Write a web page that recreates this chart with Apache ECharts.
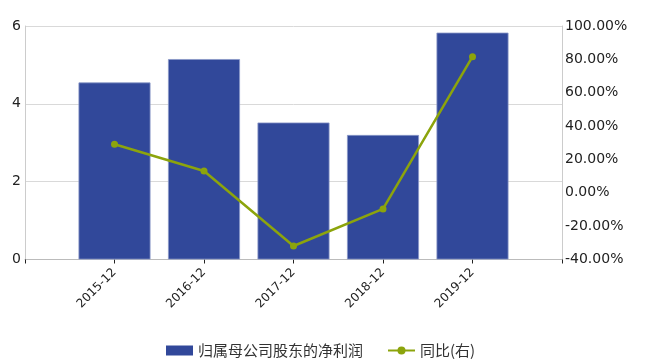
<!DOCTYPE html>
<html><head><meta charset="utf-8">
<script src="https://cdn.jsdelivr.net/npm/echarts@6/dist/echarts.min.js"></script>
<style>html,body{margin:0;padding:0;background:#fff}#c{width:645px;height:362px}</style>
</head><body><div id="c"></div>
<script>
var categories = ['', '2015-12', '2016-12', '2017-12', '2018-12', '2019-12', ''];
var profit = [null, 4.55, 5.15, 3.52, 3.20, 5.83, null];
var yoy = [null, 29.1, 13.1, -31.9, -9.7, 81.6, null];
var leftTicks = [0, 2, 4, 6];
var rightTicks = [-40, -20, 0, 20, 40, 60, 80, 100];

var chart = echarts.init(document.getElementById('c'));
var font = 'Verdana, "DejaVu Sans", sans-serif';
chart.setOption({
  animation: false,
  grid: {left: 25, right: 83, top: 26, bottom: 102.5, containLabel: false},
  legend: {
    left: 161, top: 338, itemWidth: 27, itemHeight: 10, itemGap: 24,
    textStyle: {fontFamily: '"Noto Sans CJK SC", sans-serif', fontSize: 15, color: '#333'},
    data: [
      {name: '归属母公司股东的净利润', icon: 'rect', itemStyle: {borderWidth: 0}},
      {name: '同比(右)'}
    ]
  },
  xAxis: {
    type: 'category', data: categories, boundaryGap: false,
    axisLine: {lineStyle: {color: '#bbbbbb', width: 1}},
    axisTick: {show: true, length: 4, lineStyle: {color: '#222'}},
    axisLabel: {rotate: 45, fontSize: 12, fontFamily: font, color: '#222', margin: 11, interval: 0}
  },
  yAxis: [
    {
      type: 'value', min: leftTicks[0], max: leftTicks[leftTicks.length - 1], interval: 2,
      axisLine: {show: true, lineStyle: {color: '#cccccc'}},
      axisTick: {show: false},
      splitLine: {lineStyle: {color: '#d9d9d9'}},
      axisLabel: {fontSize: 14, fontFamily: font, color: '#222', margin: 4}
    },
    {
      type: 'value', min: rightTicks[0], max: rightTicks[rightTicks.length - 1], interval: 20,
      axisLine: {show: true, lineStyle: {color: '#cccccc'}},
      axisTick: {show: false},
      splitLine: {show: false},
      axisLabel: {fontSize: 14, fontFamily: font, color: '#222', margin: 3,
        formatter: function (v) { return v.toFixed(2) + '%'; }}
    }
  ],
  series: [
    {
      name: '归属母公司股东的净利润', type: 'bar', data: profit, barWidth: 72,
      itemStyle: {color: '#31489a', borderColor: '#8a98c8', borderWidth: 0.8}
    },
    {
      name: '同比(右)', type: 'line', yAxisIndex: 1, data: yoy,
      symbol: 'circle', symbolSize: 7, connectNulls: false,
      lineStyle: {color: '#8ca40c', width: 2.5},
      itemStyle: {color: '#8ca40c'}
    }
  ]
});
</script></body></html>
